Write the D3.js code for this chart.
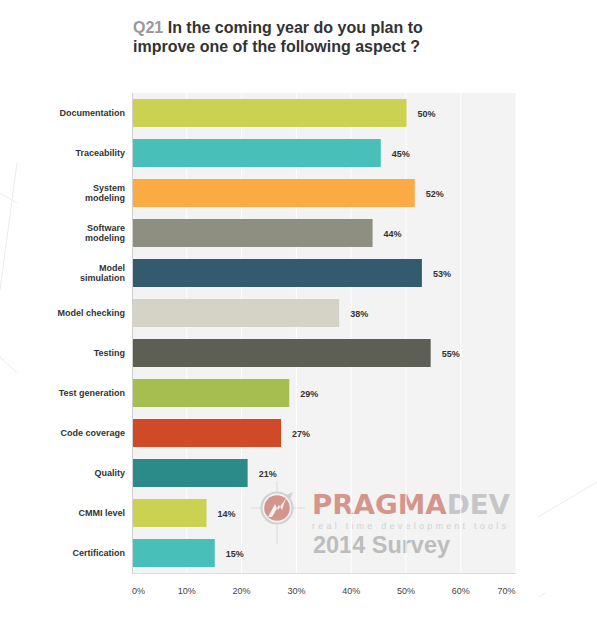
<!DOCTYPE html>
<html><head><meta charset="utf-8">
<script src="https://cdn.jsdelivr.net/npm/d3@7"></script>
<style>
html,body{margin:0;padding:0;background:#fff;}
svg{display:block;font-family:"Liberation Sans",Arial,sans-serif;}
</style></head>
<body>
<svg id="chart" width="597" height="629"></svg>
<script>
const categories = ["Documentation","Traceability","System\nmodeling","Software\nmodeling","Model\nsimulation","Model checking","Testing","Test generation","Code coverage","Quality","CMMI level","Certification"];
const values = [50.1, 45.4, 51.6, 43.9, 52.9, 37.8, 54.5, 28.7, 27.2, 21.1, 13.6, 15.1];
const valueLabels = ["50%","45%","52%","44%","53%","38%","55%","29%","27%","21%","14%","15%"];
const colors = ["#cbd150","#48c0b9","#fbab44","#8e8f80","#335a6e","#d5d3c6","#5d5e54","#a6bd4f","#d04a27","#2a8b89","#cbd150","#48c0b9"];
const xTicks = [0,10,20,30,40,50,60,70];

(function(){
const svg = d3.select("#chart");
const pL = 132, pR = 515.6, pT = 93, pB = 573;

// faint decorative background lines
const deco = [[17,163,0,290],[0,193,17,203],[0,357,17,373],[538,517,597,482],[538,597,546,593]];
svg.selectAll("line.deco").data(deco).enter().append("line")
  .attr("x1",d=>d[0]).attr("y1",d=>d[1]).attr("x2",d=>d[2]).attr("y2",d=>d[3])
  .attr("stroke","#ececec").attr("stroke-width",1);

// title
const title = svg.append("text").attr("x",133).attr("y",33).attr("font-size",16).attr("font-weight","bold").attr("fill","#333");
title.append("tspan").attr("fill","#999").text("Q21 ");
title.append("tspan").text("In the coming year do you plan to");
svg.append("text").attr("x",133).attr("y",52).attr("font-size",16).attr("font-weight","bold").attr("fill","#333")
  .text("improve one of the following aspect ?");

const x = d3.scaleLinear().domain([0,70]).range([pL,pR]);
const y = d3.scaleBand().domain(d3.range(categories.length)).range([pT,pB]).paddingInner(0.3).paddingOuter(0.15);

// plot background
svg.append("rect").attr("x",pL).attr("y",pT).attr("width",pR-pL).attr("height",pB-pT).attr("fill","#f3f3f3");

// watermark logo
const logo = svg.append("g");
logo.append("line").attr("x1",277).attr("x2",277).attr("y1",481).attr("y2",544).attr("stroke","#dadada");
logo.append("line").attr("x1",250).attr("x2",305).attr("y1",508).attr("y2",508).attr("stroke","#dadada");
logo.append("circle").attr("cx",277).attr("cy",508).attr("r",15.5).attr("fill","#f3f3f3").attr("stroke","#d2d2d2").attr("stroke-width",2.2);
logo.append("circle").attr("cx",277).attr("cy",508).attr("r",12.8).attr("fill","#d4958c");
logo.append("path").attr("d","M268,517 L275,504 L278,510 L286,498 L282,510 L279,505 L272,517 Z").attr("fill","#f3f3f3");
logo.append("path").attr("d","M286,495 L293,492 L290,499 Z").attr("fill","#d2d2d2");
const brand = logo.append("text").attr("x",312).attr("y",514).attr("font-size",27).attr("font-weight","bold")
  .attr("font-family","DejaVu Sans")
  .attr("textLength",198).attr("lengthAdjust","spacingAndGlyphs");
brand.append("tspan").attr("fill","#d4958c").text("PRAGMA");
brand.append("tspan").attr("fill","#c6c6c9").text("DEV");
logo.append("text").attr("x",312).attr("y",529).attr("font-size",9).attr("fill","#d2d2d2")
  .attr("textLength",194).attr("lengthAdjust","spacing").text("real time development tools");
logo.append("text").attr("x",313).attr("y",553).attr("font-size",24).attr("font-weight","bold").attr("fill","#bdbdbd")
  .attr("textLength",137).attr("lengthAdjust","spacingAndGlyphs").text("2014 Survey");

// gridlines
svg.selectAll("line.grid").data(xTicks.slice(1,-1)).enter().append("line")
  .attr("x1",d=>x(d)).attr("x2",d=>x(d)).attr("y1",pT).attr("y2",pB)
  .attr("stroke","#ffffff").attr("stroke-width",1);

// bars
svg.selectAll("rect.bar").data(values).enter().append("rect")
  .attr("x",x(0)).attr("y",(d,i)=>y(i)).attr("width",d=>x(d)-x(0)).attr("height",y.bandwidth())
  .attr("fill",(d,i)=>colors[i]);

// axis lines
svg.append("line").attr("x1",pL+0.5).attr("x2",pL+0.5).attr("y1",pT).attr("y2",pB).attr("stroke","#d0d0d0");
svg.append("line").attr("x1",pL).attr("x2",pR).attr("y1",pB+0.5).attr("y2",pB+0.5).attr("stroke","#dcdcdc");

// value labels
svg.selectAll("text.val").data(values).enter().append("text")
  .attr("x",d=>x(d)+11).attr("y",(d,i)=>y(i)+y.bandwidth()/2+3.5)
  .attr("font-size",9).attr("font-weight","bold").attr("fill","#333")
  .text((d,i)=>valueLabels[i]);

// category labels
categories.forEach((c,i)=>{
  const lines = c.split("\n");
  const cy = y(i)+y.bandwidth()/2;
  const t = svg.append("text").attr("text-anchor","end").attr("font-size",9).attr("font-weight","bold").attr("fill","#333");
  lines.forEach((l,j)=>{
    t.append("tspan").attr("x",125).attr("y",cy+3.2+(j-(lines.length-1)/2)*10).text(l);
  });
});

// x tick labels
svg.selectAll("text.tick").data(xTicks).enter().append("text")
  .attr("x",d=>x(d)).attr("y",594)
  .attr("text-anchor",(d,i)=>i===0?"start":(i===xTicks.length-1?"end":"middle"))
  .attr("font-size",9).attr("fill","#444")
  .text(d=>d+"%");
})();
</script>
</body></html>
